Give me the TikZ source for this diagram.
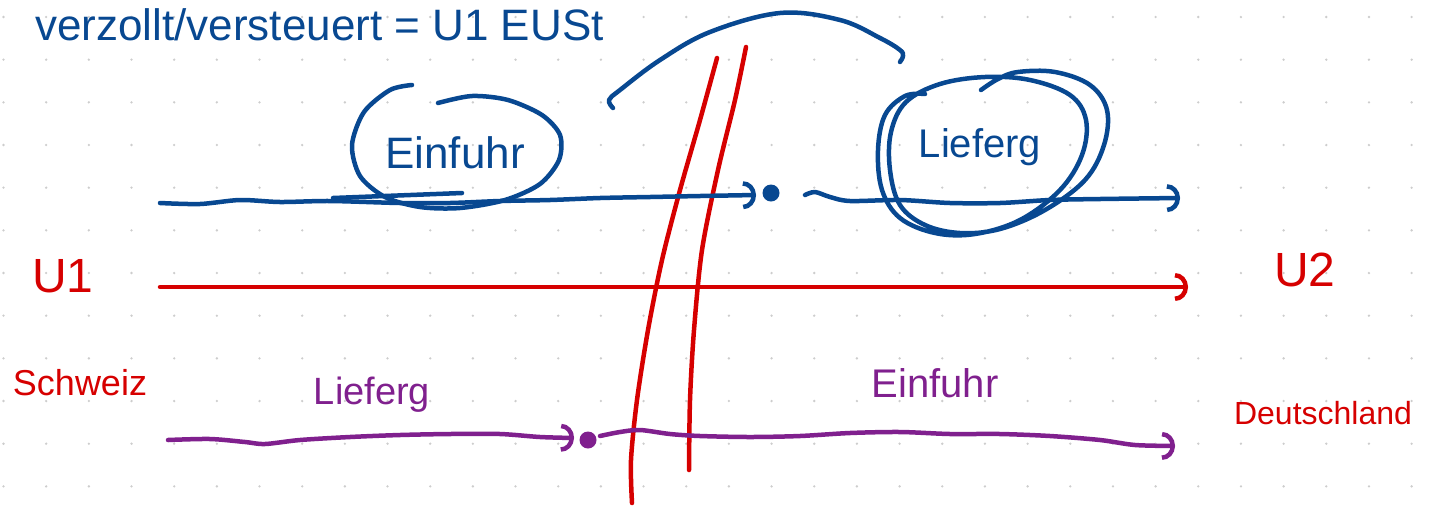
\documentclass[tikz,border=0pt]{standalone}
\usepackage{fontspec}
\setmainfont{Liberation Sans}
\usetikzlibrary{arrows.meta}
\definecolor{inkblue}{RGB}{8,72,145}
\definecolor{inkred}{RGB}{214,0,0}
\definecolor{inkpurple}{RGB}{128,32,142}
\definecolor{griddot}{RGB}{205,205,205}
\begin{document}
\begin{tikzpicture}[x=1pt,y=-1pt,
  ink/.style={line width=4.5pt,line cap=round,line join=round},
  bluestroke/.style={ink,draw=inkblue},
  redstroke/.style={ink,draw=inkred},
  purplestroke/.style={ink,draw=inkpurple},
  handtip/.style={-{Arc Barb[length=13pt,width=28pt]}},
  lbl/.style={inner sep=0pt,font=\fontsize{#1}{#1}\selectfont},
  dotmark/.style={circle,inner sep=0pt,minimum size=17pt}
]
\useasboundingbox (0,0) rectangle (1439,507);
% grid dots
\foreach \i in {0,...,33}{\foreach \j in {0,...,11}{
  \fill[griddot] ({3.5+42.67*\i},{17+42.67*\j}) circle (1.3pt);}}

% top text
\node[lbl=44,text=inkblue,anchor=base west] (title) at (35,40) {verzollt/versteuert = U1 EUSt};

% top arc
\draw[bluestroke] plot[smooth,tension=0.6] coordinates {(613,108) (609,100) (620,90) (660,60) (710,32) (780,13) (840,20) (880,38) (900,50) (903,56) (900,62)};

% red border lines
\draw[redstroke] plot[smooth] coordinates {(717,58) (700,120) (680,190) (662,260) (648,330) (637,400) (631,460) (632,503)};
\draw[redstroke] plot[smooth] coordinates {(746,47) (735,100) (718,170) (702,250) (694,330) (690,400) (689,470)};

% blue Einfuhr ellipse
\node[lbl=44,text=inkblue] (einfuhrB) at (455,153) {Einfuhr};
\draw[bluestroke] plot[smooth] coordinates {(412,85) (390,90) (364,112) (352,145) (360,176) (385,197) (420,207) (460,208) (505,200) (540,184) (559,160) (560,135) (542,115) (508,100) (472,96) (438,103)};
\draw[bluestroke] (333,198) -- (462,193);

% blue Lieferg double ellipse
\node[lbl=40,text=inkblue] (lieferB) at (980,147) {Lieferg};
\draw[bluestroke] plot[smooth,tension=0.6] coordinates {(925,94) (905,96) (885,115) (878,150) (882,190) (900,218) (935,233) (975,234) (1020,220) (1060,190) (1082,155) (1086,120) (1070,95) (1030,80) (985,77) (940,84) (906,102) (891,132) (890,170) (900,205) (925,225) (960,233) (1000,229) (1045,210) (1085,180) (1104,145) (1107,110) (1090,85) (1055,72) (1018,72) (998,79) (981,90)};

% blue flow
\coordinate (b0) at (160,203);
\node[dotmark,fill=inkblue] (bdot) at (771,193) {};
\coordinate (b1) at (805,195);
\coordinate (bend) at (1180,198);
\draw[bluestroke,handtip] plot[smooth] coordinates {(b0) (200,204) (240,200) (280,202) (330,201) (400,203) (450,203) (500,201) (550,200) (600,198) (650,197) (700,196) (756,195)};
\draw[bluestroke,handtip] plot[smooth] coordinates {(b1) (815,192) (830,197) (850,201) (900,200) (950,203) (1000,203) (1050,200) (1100,199) (bend)};

% red U line
\node[lbl=48,text=inkred] (u1) at (63,276) {U1};
\node[lbl=48,text=inkred] (u2) at (1305,270) {U2};
\coordinate (r0) at (160,287);
\coordinate (r1) at (1188,287);
\draw[redstroke,handtip] (r0) -- (r1);
\node[lbl=36,text=inkred] (ch) at (80,383) {Schweiz};
\node[lbl=32,text=inkred] (de) at (1323,413) {Deutschland};

% purple flow
\node[lbl=38,text=inkpurple] (lieferP) at (372,395) {Lieferg};
\node[lbl=40,text=inkpurple] (einfuhrP) at (935,383) {Einfuhr};
\coordinate (p0) at (168,440);
\node[dotmark,fill=inkpurple] (pdot) at (588,440) {};
\coordinate (p1) at (600,436);
\coordinate (pend) at (1175,446);
\draw[purplestroke,handtip] plot[smooth] coordinates {(p0) (210,439) (245,442) (265,444) (300,440) (350,437) (400,435) (450,434) (500,434) (540,437) (574,438)};
\draw[purplestroke,handtip] plot[smooth] coordinates {(p1) (620,432) (640,430) (670,434) (700,436) (750,437) (800,436) (850,433) (900,432) (950,434) (1000,434) (1050,436) (1100,440) (1135,445) (pend)};
\end{tikzpicture}
\end{document}
